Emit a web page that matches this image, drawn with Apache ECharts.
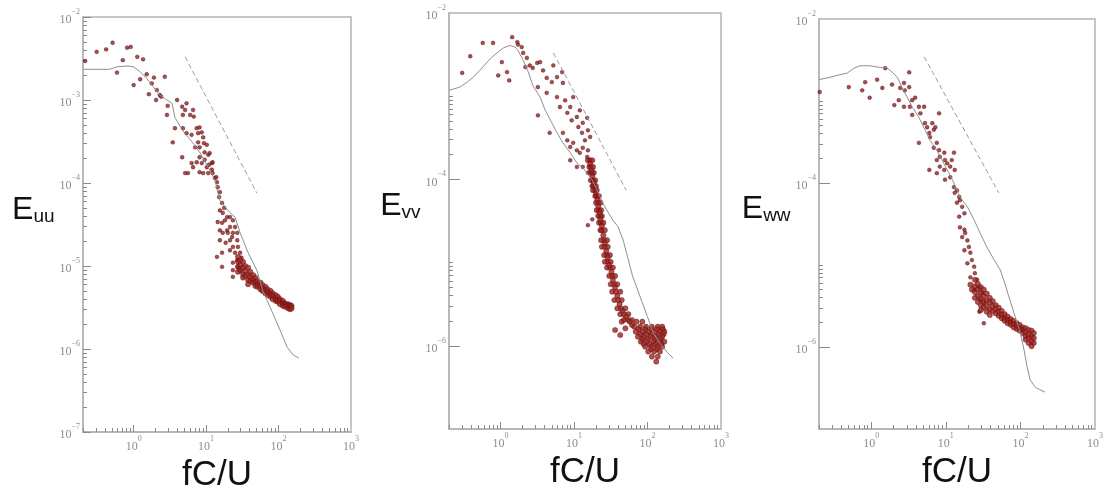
<!DOCTYPE html>
<html>
<head>
<meta charset="utf-8">
<title>Euu / Evv / Eww spectra</title>
<script src="https://cdn.jsdelivr.net/npm/echarts@6/dist/echarts.min.js"></script>
<style>
  html, body { margin: 0; padding: 0; background: #fff; }
  #chart { width: 1107px; height: 498px; }
</style>
</head>
<body>
<div id="chart"></div>
<script>
// values, kept as decade exponents: [log10(fC/U), log10(E)]
const xTickExps = [0, 1, 2, 3];
const yTickExpsUU = [-7, -6, -5, -4, -3, -2];
const yTickExpsVW = [-6, -4, -2];
const xRange = [0.2, 1000];
const yRange = [1e-7, 1e-2];

// Euu
const uuScatter = [
  [-0.67,-2.53],[-0.51,-2.42],[-0.38,-2.39],[-0.29,-2.31],[-0.23,-2.67],[-0.15,-2.52],[-0.09,-2.37],[-0.04,-2.36],
  [0.00,-2.82],[0.05,-2.48],[0.13,-2.51],[0.18,-2.69],[0.09,-2.75],[0.21,-2.93],[0.25,-2.80],[0.28,-2.73],
  [0.32,-2.88],[0.36,-2.94],[0.38,-2.96],[0.31,-3.00],[0.43,-2.72],[0.46,-3.18],[0.47,-3.07],[0.57,-3.34],
  [0.54,-3.51],[0.60,-3.00],[0.67,-3.08],[0.68,-3.18],[0.71,-3.12],[0.73,-3.04],[0.78,-3.18],[0.82,-3.12],
  [0.83,-3.20],[0.68,-3.34],[0.73,-3.40],[0.80,-3.42],[0.87,-3.34],[0.89,-3.40],[0.91,-3.33],[0.94,-3.39],
  [0.96,-3.45],[0.85,-3.57],[0.89,-3.51],[0.91,-3.57],[0.97,-3.52],[1.01,-3.54],[0.98,-3.63],[1.03,-3.66],
  [1.05,-3.64],[0.91,-3.69],[0.87,-3.75],[0.94,-3.76],[0.98,-3.72],[1.01,-3.81],[1.04,-3.78],[1.08,-3.76],
  [1.09,-3.75],[0.80,-3.76],[0.75,-3.88],[0.82,-3.81],[0.71,-3.88],[0.91,-3.87],[0.96,-3.88],[1.03,-3.88],
  [1.08,-3.84],[1.09,-3.88],[1.12,-3.94],[1.15,-3.99],[1.14,-3.93],[1.16,-4.05],[1.19,-4.11],[1.18,-4.17],
  [1.22,-4.24],[1.19,-4.33],[1.23,-4.36],[1.25,-4.30],[1.29,-4.41],[1.26,-4.45],[1.22,-4.48],[1.16,-4.47],
  [1.19,-4.57],[1.23,-4.60],[1.29,-4.57],[1.33,-4.53],[1.30,-4.60],[1.36,-4.65],[1.37,-4.60],[1.33,-4.69],
  [1.27,-4.72],[1.19,-4.69],[1.15,-4.89],[1.22,-4.84],[1.33,-4.81],[1.37,-4.77],[1.40,-4.84],[1.43,-4.93],
  [1.37,-4.96],[1.44,-5.01],[1.47,-5.05],[1.37,-5.05],[0.67,-3.69],[1.22,-5.01],[1.37,-5.13],[1.33,-4.41],
  [1.37,-4.45],[1.40,-4.53],[1.43,-4.60],[1.43,-4.69],[1.44,-4.77],[1.47,-4.84],[1.49,-4.90]
];
const uuBand = [
  [1.44,-4.89],[1.44,-4.95],[1.44,-5.01],[1.44,-5.07],[1.47,-4.93],[1.47,-4.99],[1.47,-5.05],
  [1.51,-4.95],[1.51,-5.02],[1.51,-5.10],[1.51,-5.14],[1.54,-5.00],[1.54,-5.06],[1.54,-5.12],
  [1.58,-5.02],[1.58,-5.10],[1.58,-5.17],[1.58,-5.22],[1.61,-5.07],[1.61,-5.13],[1.61,-5.18],
  [1.65,-5.11],[1.65,-5.16],[1.65,-5.20],[1.68,-5.14],[1.68,-5.19],[1.68,-5.24],
  [1.71,-5.18],[1.71,-5.22],[1.71,-5.25],[1.75,-5.20],[1.75,-5.24],[1.75,-5.28],
  [1.78,-5.23],[1.78,-5.27],[1.78,-5.30],[1.82,-5.25],[1.82,-5.29],[1.82,-5.33],
  [1.85,-5.28],[1.85,-5.31],[1.85,-5.35],[1.89,-5.30],[1.89,-5.34],[1.89,-5.37],
  [1.92,-5.33],[1.92,-5.36],[1.92,-5.40],[1.96,-5.35],[1.96,-5.39],[1.96,-5.42],
  [1.99,-5.37],[1.99,-5.41],[1.99,-5.43],[2.02,-5.40],[2.02,-5.42],[2.02,-5.46],
  [2.06,-5.42],[2.06,-5.45],[2.06,-5.48],[2.09,-5.45],[2.09,-5.47],[2.09,-5.49],
  [2.13,-5.46],[2.13,-5.48],[2.13,-5.51],[2.16,-5.47],[2.16,-5.49],[2.16,-5.52],
  [2.18,-5.48],[2.18,-5.51]
];
const uuModel = [
  [-0.699,-2.63],[-0.33,-2.63],[-0.23,-2.60],[-0.08,-2.59],[0.00,-2.60],[0.09,-2.66],[0.18,-2.74],
  [0.27,-2.84],[0.36,-2.94],[0.46,-3.00],[0.53,-3.04],[0.57,-3.21],[0.67,-3.36],[0.81,-3.51],
  [0.92,-3.64],[1.03,-3.81],[1.12,-3.96],[1.19,-4.21],[1.33,-4.36],[1.40,-4.41],[1.47,-4.60],
  [1.58,-4.84],[1.70,-5.05],[1.78,-5.29],[1.91,-5.55],[2.02,-5.77],[2.12,-5.98],[2.20,-6.07],[2.28,-6.11]
];
const uuSlope = [[0.71,-2.48],[1.70,-4.12]];

// Evv
const vvScatter = [
  [-0.52,-2.72],[-0.41,-2.52],[-0.24,-2.36],[-0.10,-2.36],[-0.03,-2.75],[0.02,-2.59],[0.09,-2.71],[0.12,-2.81],
  [0.16,-2.29],[0.23,-2.35],[0.24,-2.38],[0.29,-2.41],[0.31,-2.48],[0.36,-2.54],[0.40,-2.63],[0.34,-2.65],
  [0.44,-2.66],[0.50,-2.60],[0.54,-2.59],[0.58,-2.69],[0.63,-2.78],[0.70,-2.83],[0.72,-2.63],[0.77,-2.77],
  [0.84,-2.71],[0.85,-2.84],[0.51,-2.89],[0.63,-2.96],[0.51,-3.23],[0.67,-3.44],[0.77,-3.01],[0.81,-3.13],
  [0.88,-3.05],[0.91,-3.20],[0.95,-3.13],[0.97,-3.29],[0.99,-3.01],[1.04,-3.25],[1.06,-3.37],[1.08,-3.17],
  [1.11,-3.44],[1.12,-3.32],[1.15,-3.53],[1.18,-3.26],[1.19,-3.41],[1.22,-3.49],[0.85,-3.44],[0.91,-3.53],
  [0.95,-3.61],[0.99,-3.56],[1.04,-3.65],[1.08,-3.68],[1.12,-3.62],[1.18,-3.73],[1.19,-3.65],[0.95,-3.77],
  [1.04,-3.85],[1.12,-3.85],[1.19,-3.92],[1.22,-3.77],[1.25,-4.48],[1.19,-4.55]
];
const vvBand = [
  [1.19,-3.77],[1.22,-3.77],[1.25,-3.77],[1.21,-3.85],[1.23,-3.85],[1.26,-3.85],
  [1.22,-3.92],[1.25,-3.92],[1.27,-3.92],[1.23,-4.01],[1.26,-4.01],[1.29,-4.01],
  [1.25,-4.08],[1.27,-4.08],[1.30,-4.08],[1.26,-4.13],[1.29,-4.13],[1.31,-4.13],
  [1.29,-4.20],[1.31,-4.20],[1.34,-4.20],[1.30,-4.28],[1.33,-4.28],[1.36,-4.28],
  [1.31,-4.37],[1.34,-4.37],[1.37,-4.37],[1.33,-4.44],[1.36,-4.44],[1.38,-4.44],
  [1.34,-4.52],[1.37,-4.52],[1.40,-4.52],[1.36,-4.61],[1.38,-4.61],[1.42,-4.61],
  [1.37,-4.73],[1.41,-4.73],[1.45,-4.73],[1.38,-4.81],[1.42,-4.81],[1.46,-4.81],
  [1.41,-4.91],[1.45,-4.91],[1.49,-4.91],[1.42,-4.99],[1.46,-4.99],[1.50,-4.99],
  [1.45,-5.06],[1.49,-5.06],[1.53,-5.06],[1.48,-5.16],[1.52,-5.16],[1.56,-5.16],
  [1.50,-5.26],[1.55,-5.26],[1.59,-5.26],[1.52,-5.35],[1.57,-5.35],[1.63,-5.35],
  [1.55,-5.45],[1.60,-5.45],[1.65,-5.45],[1.59,-5.55],[1.64,-5.55],[1.70,-5.55],
  [1.63,-5.62],[1.68,-5.62],[1.74,-5.62],[1.68,-5.69],[1.74,-5.69],[1.79,-5.69],[1.79,-5.75],
  [1.22,-3.81],[1.24,-3.89],[1.25,-3.96],[1.27,-4.04],[1.30,-4.16],[1.32,-4.24],[1.33,-4.32],
  [1.35,-4.40],[1.36,-4.48],[1.38,-4.56],[1.40,-4.67],[1.42,-4.77],[1.44,-4.86],[1.46,-4.94],
  [1.48,-5.03],[1.51,-5.11],[1.53,-5.21],[1.56,-5.30],[1.59,-5.40],[1.62,-5.50],[1.66,-5.58],[1.71,-5.65]
];
const vvBlob = [
  [1.76,-5.71],[1.85,-5.71],[1.93,-5.71],
  [1.82,-5.77],[1.90,-5.77],[1.98,-5.77],[2.06,-5.77],[2.14,-5.77],[2.20,-5.77],
  [1.88,-5.80],[1.97,-5.80],[2.05,-5.80],[2.13,-5.80],[2.21,-5.80],
  [1.84,-5.83],[1.93,-5.83],[2.01,-5.83],[2.09,-5.83],[2.17,-5.83],[2.23,-5.83],
  [1.90,-5.86],[1.98,-5.86],[2.06,-5.86],[2.15,-5.86],[2.22,-5.86],
  [1.87,-5.89],[1.95,-5.89],[2.04,-5.89],[2.12,-5.89],[2.20,-5.89],
  [1.93,-5.92],[2.01,-5.92],[2.10,-5.92],[2.18,-5.92],
  [1.91,-5.95],[1.99,-5.95],[2.08,-5.95],[2.16,-5.95],[2.23,-5.95],
  [1.95,-5.98],[2.03,-5.98],[2.11,-5.98],[2.19,-5.98],
  [1.97,-6.01],[2.05,-6.01],[2.13,-6.01],[2.20,-6.01],
  [2.05,-6.04],[2.13,-6.04],[2.01,-6.07],[2.09,-6.07],[2.17,-6.07],
  [2.06,-6.13],[2.14,-6.13],[2.12,-6.19],
  [1.56,-5.81],[1.63,-5.87],[1.70,-5.79],[1.65,-5.71]
];
const vvModel = [
  [-0.699,-2.93],[-0.55,-2.89],[-0.45,-2.83],[-0.37,-2.77],[-0.28,-2.69],[-0.18,-2.59],[-0.10,-2.52],
  [-0.03,-2.47],[0.04,-2.42],[0.13,-2.39],[0.20,-2.41],[0.24,-2.45],[0.31,-2.57],[0.38,-2.71],
  [0.44,-2.87],[0.54,-3.01],[0.61,-3.17],[0.70,-3.32],[0.77,-3.44],[0.85,-3.56],[0.95,-3.68],
  [1.04,-3.80],[1.15,-3.89],[1.25,-4.01],[1.33,-4.16],[1.42,-4.33],[1.53,-4.49],[1.60,-4.57],
  [1.67,-4.73],[1.74,-4.97],[1.80,-5.17],[1.90,-5.41],[2.00,-5.65],[2.08,-5.85],[2.17,-5.97],
  [2.27,-6.08],[2.35,-6.15]
];
const vvSlope = [[0.72,-2.48],[1.71,-4.13]];

// Eww
const wwScatter = [
  [-0.69,-2.89],[-0.30,-2.83],[-0.12,-2.87],[-0.08,-2.77],[-0.02,-2.96],[0.08,-2.74],[0.15,-2.84],[0.19,-2.60],
  [0.28,-2.80],[0.31,-3.05],[0.39,-2.84],[0.44,-2.78],[0.45,-2.87],[0.51,-2.65],[0.51,-2.83],[0.37,-2.99],
  [0.44,-3.07],[0.52,-3.07],[0.55,-2.99],[0.59,-2.96],[0.64,-3.07],[0.66,-3.15],[0.71,-3.07],[0.55,-3.17],
  [0.64,-3.51],[0.72,-3.27],[0.75,-3.32],[0.78,-3.39],[0.82,-3.27],[0.84,-3.35],[0.86,-3.32],[0.91,-3.15],
  [0.79,-3.44],[0.88,-3.51],[0.84,-3.57],[0.91,-3.60],[0.92,-3.68],[0.98,-3.63],[0.99,-3.72],[1.02,-3.76],
  [0.88,-3.72],[0.92,-3.80],[0.98,-3.84],[1.06,-3.80],[1.08,-3.72],[1.11,-3.63],[1.12,-3.84],[0.78,-3.84],
  [0.88,-3.88],[0.99,-3.96],[1.06,-3.93],[1.11,-4.05],[1.15,-4.09],[1.12,-4.12],[1.18,-4.17],[1.19,-4.21],
  [1.15,-4.24],[1.22,-4.29],[1.25,-4.37],[1.18,-4.41],[1.19,-4.54],[1.25,-4.57],[1.26,-4.61],[1.22,-4.66],
  [1.29,-4.70],[1.31,-4.78],[1.25,-4.82],[1.33,-4.85],[1.35,-4.94],[1.29,-4.98],[1.38,-5.02],[1.39,-5.10],
  [1.33,-5.15],[1.42,-5.18],[1.45,-5.27],[1.38,-5.30],[1.49,-5.34],[1.46,-5.43],[1.51,-5.46],[1.45,-5.57],
  [1.51,-5.71]
];
const wwBand = [
  [1.39,-5.18],[1.39,-5.26],[1.39,-5.33],[1.43,-5.23],[1.43,-5.30],[1.43,-5.38],
  [1.47,-5.27],[1.47,-5.34],[1.47,-5.41],[1.47,-5.49],[1.51,-5.30],[1.51,-5.38],[1.51,-5.45],[1.51,-5.52],
  [1.55,-5.35],[1.55,-5.43],[1.55,-5.50],[1.59,-5.40],[1.59,-5.46],[1.59,-5.54],
  [1.63,-5.44],[1.63,-5.50],[1.63,-5.56],[1.67,-5.49],[1.67,-5.54],[1.67,-5.59],
  [1.71,-5.52],[1.71,-5.57],[1.71,-5.62],[1.75,-5.56],[1.75,-5.61],[1.75,-5.65],
  [1.79,-5.60],[1.79,-5.65],[1.79,-5.68],[1.83,-5.63],[1.83,-5.67],[1.83,-5.71],
  [1.87,-5.66],[1.87,-5.70],[1.87,-5.73],[1.91,-5.68],[1.91,-5.72],[1.91,-5.76],
  [1.95,-5.71],[1.95,-5.74],[1.95,-5.78],[1.99,-5.73],[1.99,-5.77],[1.99,-5.80],
  [2.03,-5.76],[2.03,-5.79],[2.03,-5.83],[2.07,-5.77],[2.07,-5.82],[2.07,-5.87],[2.07,-5.91],
  [2.11,-5.79],[2.11,-5.85],[2.11,-5.89],[2.11,-5.95],[2.15,-5.80],[2.15,-5.87],[2.15,-5.93],[2.15,-5.99],
  [2.18,-5.83],[2.18,-5.89],[2.18,-5.95],
  [1.43,-5.45],[1.47,-5.55],[1.39,-5.40],[1.35,-5.30],[1.33,-5.24],[1.55,-5.57],[1.59,-5.61]
];
const wwModel = [
  [-0.699,-2.74],[-0.55,-2.71],[-0.42,-2.68],[-0.32,-2.66],[-0.23,-2.60],[-0.15,-2.57],[-0.02,-2.57],
  [0.11,-2.59],[0.19,-2.59],[0.25,-2.62],[0.35,-2.71],[0.41,-2.83],[0.48,-2.95],[0.55,-3.07],
  [0.64,-3.20],[0.72,-3.35],[0.79,-3.48],[0.88,-3.60],[0.95,-3.72],[1.02,-3.84],[1.11,-4.00],
  [1.19,-4.17],[1.29,-4.29],[1.38,-4.45],[1.46,-4.61],[1.55,-4.78],[1.65,-4.94],[1.73,-5.06],
  [1.79,-5.22],[1.86,-5.43],[1.93,-5.63],[2.00,-5.83],[2.05,-6.04],[2.09,-6.24],[2.13,-6.40],
  [2.20,-6.49],[2.26,-6.52],[2.33,-6.55]
];
const wwSlope = [[0.71,-2.46],[1.71,-4.12]];

const toData = pts => pts.map(([fx, ex]) => [Math.pow(10, fx), Math.pow(10, ex)]);
const minorTicks = (decades, ks) =>
  decades.flatMap(n => ks.map(k => n + Math.log10(k)));

const X_MIN_EXP = Math.log10(xRange[0]);
const xMinor = minorTicks([-1, 0, 1, 2], [2, 3, 4, 5, 6, 7, 8, 9]).filter(v => v >= X_MIN_EXP - 1e-9);

const tickColor = '#8a8a8a';
const frameColor = '#b4b4b4';
const labelRich = {
  b: { fontFamily: 'Liberation Serif', fontSize: 12, color: '#8c8c8c', lineHeight: 18, verticalAlign: 'bottom' },
  s: { fontFamily: 'Liberation Serif', fontSize: 8, color: '#8c8c8c', lineHeight: 8, verticalAlign: 'top' }
};
const expLabel = v => '{b|10}{s|' + String(Math.round(v)).replace('-', '\u2212') + '}';

const panels = [
  {
    grid: { left: 83, top: 17, width: 268, height: 415 },
    sub: 'uu', yLabels: yTickExpsUU, yMajor: yTickExpsUU, majorLen: 8,
    yMinor: minorTicks([-7, -6, -5, -4, -3], [2, 3, 4, 5, 6, 7, 8, 9]),
    scatter: uuScatter, dense: uuBand, model: uuModel, slope: uuSlope
  },
  {
    grid: { left: 449, top: 13, width: 272, height: 416 },
    sub: 'vv', yLabels: yTickExpsVW, yMajor: [-6, -4], majorLen: 11,
    yMinor: minorTicks([-6, -4], [2, 3, 4, 5, 6, 7, 8, 9, 10]),
    scatter: vvScatter, dense: vvBand.concat(vvBlob), model: vvModel, slope: vvSlope
  },
  {
    grid: { left: 819, top: 19, width: 276, height: 410 },
    sub: 'ww', yLabels: yTickExpsVW, yMajor: [-6, -4], majorLen: 11,
    yMinor: minorTicks([-6, -4], [2, 3, 4, 5, 6, 7, 8, 9, 10]),
    scatter: wwScatter, dense: wwBand, model: wwModel, slope: wwSlope
  }
];

const grid = [], xAxis = [], yAxis = [], series = [];

panels.forEach((p, i) => {
  grid.push(Object.assign({ show: true, borderColor: frameColor, borderWidth: 1.5, containLabel: false }, p.grid));

  // data axes (log)
  xAxis.push({ type: 'log', logBase: 10, gridIndex: i, min: xRange[0], max: xRange[1], show: false });
  yAxis.push({ type: 'log', logBase: 10, gridIndex: i, min: yRange[0], max: yRange[1], show: false });

  // decade labels + major ticks
  xAxis.push({
    type: 'value', gridIndex: i, position: 'bottom', min: X_MIN_EXP, max: 3,
    axisLine: { show: true, onZero: false, lineStyle: { color: frameColor, width: 1.5 } },
    axisTick: { show: true, inside: true, length: 7, customValues: [0, 1, 2], lineStyle: { color: tickColor } },
    axisLabel: { customValues: xTickExps, formatter: expLabel, rich: labelRich, margin: 3 },
    splitLine: { show: false },
    name: 'fC/U', nameLocation: 'middle', nameGap: 18,
    nameTextStyle: { fontFamily: 'Liberation Sans', fontSize: 35, color: '#111' }
  });
  xAxis.push({
    type: 'value', gridIndex: i, position: 'bottom', min: X_MIN_EXP, max: 3,
    axisLine: { show: false, onZero: false },
    axisTick: { show: true, inside: true, length: 4, customValues: xMinor, lineStyle: { color: tickColor } },
    axisLabel: { show: false }, splitLine: { show: false }
  });

  yAxis.push({
    type: 'value', gridIndex: i, position: 'left', min: -7, max: -2,
    axisLine: { show: true, onZero: false, lineStyle: { color: frameColor, width: 1.5 } },
    axisTick: { show: true, inside: true, length: p.majorLen, customValues: p.yMajor, lineStyle: { color: tickColor } },
    axisLabel: { customValues: p.yLabels, formatter: expLabel, rich: labelRich, margin: 3 },
    splitLine: { show: false },
    name: '{e|E}{s|' + p.sub + '}', nameLocation: 'middle', nameRotate: 0, nameGap: 26,
    nameTextStyle: {
      padding: [0, 0, 29, 0],
      rich: {
        e: { fontFamily: 'Liberation Sans', fontSize: 32, color: '#111', lineHeight: 32, verticalAlign: 'bottom' },
        s: { fontFamily: 'Liberation Sans', fontSize: 19, color: '#111', lineHeight: 22, verticalAlign: 'bottom' }
      }
    }
  });
  yAxis.push({
    type: 'value', gridIndex: i, position: 'left', min: -7, max: -2,
    axisLine: { show: false, onZero: false },
    axisTick: { show: true, inside: true, length: 4, customValues: p.yMinor, lineStyle: { color: tickColor } },
    axisLabel: { show: false }, splitLine: { show: false }
  });

  const ax = { xAxisIndex: 3 * i, yAxisIndex: 3 * i };
  series.push(Object.assign({
    type: 'line', data: toData(p.model), symbol: 'none', silent: true,
    lineStyle: { color: '#8f8f8f', width: 1 }
  }, ax));
  series.push(Object.assign({
    type: 'line', data: toData(p.slope), symbol: 'none', silent: true,
    lineStyle: { color: '#9a9a9a', width: 1, type: [5, 3] }
  }, ax));
  series.push(Object.assign({
    type: 'scatter', data: toData(p.scatter), symbol: 'circle', symbolSize: 3.8,
    itemStyle: { color: '#9c1f22', borderColor: '#3d0b0b', borderWidth: 0.5 }
  }, ax));
  series.push(Object.assign({
    type: 'scatter', data: toData(p.dense), symbol: 'circle', symbolSize: 5.2,
    itemStyle: { color: '#a3221f', borderColor: '#4a0c0c', borderWidth: 0.5 }
  }, ax));
});

const chart = echarts.init(document.getElementById('chart'));
chart.setOption({ animation: false, grid, xAxis, yAxis, series });
</script>
</body>
</html>
